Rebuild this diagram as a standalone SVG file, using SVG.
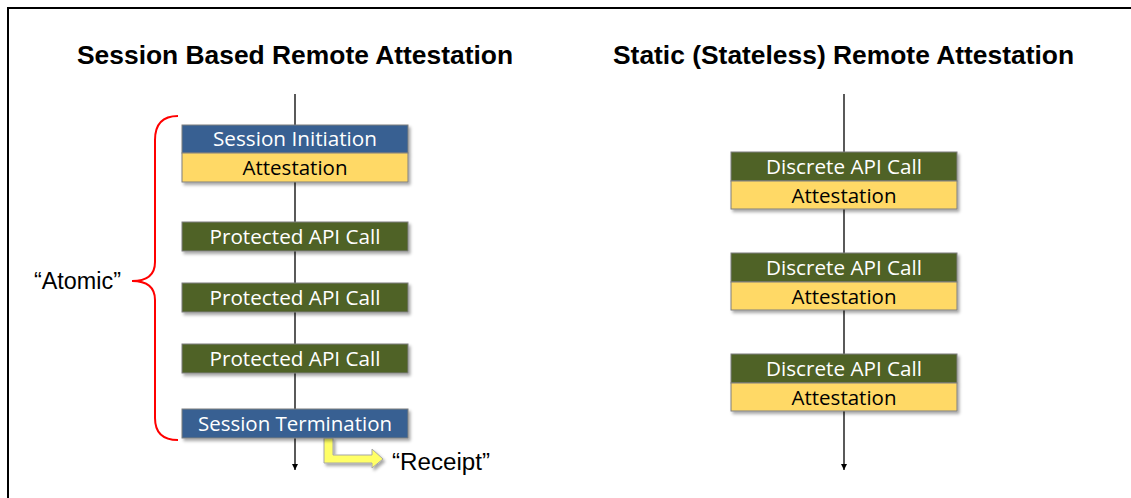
<svg xmlns="http://www.w3.org/2000/svg" width="1131" height="498" viewBox="0 0 1131 498">
<style>
.title{font-family:"Liberation Sans",Arial,sans-serif;font-weight:bold;font-size:25px;fill:#000}
.lbl{font-family:"Liberation Sans",Arial,sans-serif;font-size:23px;fill:#000}
.bt{font-family:"Open Sans","Noto Sans",sans-serif;font-size:20.5px;text-anchor:middle}
.w{fill:#fff}
.k{fill:#000}
.blue{fill:#376092;stroke:#7f7f7f;stroke-width:1}
.green{fill:#4f6228;stroke:#7f7f7f;stroke-width:1}
.yellow{fill:#ffd966;stroke:#7f7f7f;stroke-width:1}
.life{stroke:#000;stroke-width:1.3;fill:none}
</style>
<defs>
<filter id="sh" x="-10%" y="-20%" width="130%" height="160%">
<feDropShadow dx="2" dy="2.5" stdDeviation="1.5" flood-color="#000" flood-opacity="0.35"/>
</filter>
<marker id="ah" viewBox="0 0 10 10" refX="10" refY="5" markerWidth="6" markerHeight="6" markerUnits="userSpaceOnUse" orient="auto">
<path d="M0,0 L10,5 L0,10 z" fill="#000"/>
</marker>
</defs>
<rect x="8" y="8" width="1140" height="510" fill="#fff" stroke="#000" stroke-width="2"/>
<text class="title" x="77" y="64" textLength="436" lengthAdjust="spacingAndGlyphs">Session Based Remote Attestation</text>
<text class="title" x="613" y="64" textLength="461" lengthAdjust="spacingAndGlyphs">Static (Stateless) Remote Attestation</text>
<g id="connectors">
<line class="life" x1="295" y1="94" x2="295" y2="470" marker-end="url(#ah)"/>
<line class="life" x1="844" y1="94" x2="844" y2="470" marker-end="url(#ah)"/>
</g>
<g id="bracket">
<path d="M178,116 Q155,116 155,140 L155,262 Q155,281 132,281 Q155,281 155,300 L155,418 Q155,440 178,440" fill="none" stroke="#ff0000" stroke-width="2"/>
<text class="lbl" x="34" y="289" textLength="87" lengthAdjust="spacingAndGlyphs">“Atomic”</text>
</g>
<g id="session-initiation" filter="url(#sh)">
<rect class="blue" x="182" y="125" width="226" height="28"/>
<rect class="yellow" x="182" y="153" width="226" height="29"/>
</g>
<g id="session-initiation-text">
<text class="bt w" x="295" y="146" textLength="164" lengthAdjust="spacingAndGlyphs">Session Initiation</text>
<text class="bt k" x="295" y="175" textLength="105" lengthAdjust="spacingAndGlyphs">Attestation</text>
</g>
<g id="protected-1">
<rect class="green" x="182" y="222" width="226" height="29" filter="url(#sh)"/>
<text class="bt w" x="295" y="244" textLength="171" lengthAdjust="spacingAndGlyphs">Protected API Call</text>
</g>
<g id="protected-2">
<rect class="green" x="182" y="283" width="226" height="29" filter="url(#sh)"/>
<text class="bt w" x="295" y="305" textLength="171" lengthAdjust="spacingAndGlyphs">Protected API Call</text>
</g>
<g id="protected-3">
<rect class="green" x="182" y="344" width="226" height="29" filter="url(#sh)"/>
<text class="bt w" x="295" y="366" textLength="171" lengthAdjust="spacingAndGlyphs">Protected API Call</text>
</g>
<g id="receipt">
<path d="M324,438 L333,438 L333,455 L372,455 L372,449 L383,459 L372,468 L372,463 L324,463 Z" fill="#ffff66" stroke="#a6a6a6" stroke-width="1" filter="url(#sh)"/>
<text class="lbl" x="392" y="470" textLength="98" lengthAdjust="spacingAndGlyphs">“Receipt”</text>
</g>
<g id="session-termination">
<rect class="blue" x="182" y="409" width="226" height="29" filter="url(#sh)"/>
<text class="bt w" x="295" y="431" textLength="194" lengthAdjust="spacingAndGlyphs">Session Termination</text>
</g>
<g id="discrete-1">
<g filter="url(#sh)">
<rect class="green" x="731" y="152" width="226" height="29"/>
<rect class="yellow" x="731" y="181" width="226" height="28"/>
</g>
<text class="bt w" x="844" y="174" textLength="156" lengthAdjust="spacingAndGlyphs">Discrete API Call</text>
<text class="bt k" x="844" y="203" textLength="105" lengthAdjust="spacingAndGlyphs">Attestation</text>
</g>
<g id="discrete-2">
<g filter="url(#sh)">
<rect class="green" x="731" y="253" width="226" height="29"/>
<rect class="yellow" x="731" y="282" width="226" height="28"/>
</g>
<text class="bt w" x="844" y="275" textLength="156" lengthAdjust="spacingAndGlyphs">Discrete API Call</text>
<text class="bt k" x="844" y="304" textLength="105" lengthAdjust="spacingAndGlyphs">Attestation</text>
</g>
<g id="discrete-3">
<g filter="url(#sh)">
<rect class="green" x="731" y="354" width="226" height="29"/>
<rect class="yellow" x="731" y="383" width="226" height="28"/>
</g>
<text class="bt w" x="844" y="376" textLength="156" lengthAdjust="spacingAndGlyphs">Discrete API Call</text>
<text class="bt k" x="844" y="405" textLength="105" lengthAdjust="spacingAndGlyphs">Attestation</text>
</g>
</svg>
